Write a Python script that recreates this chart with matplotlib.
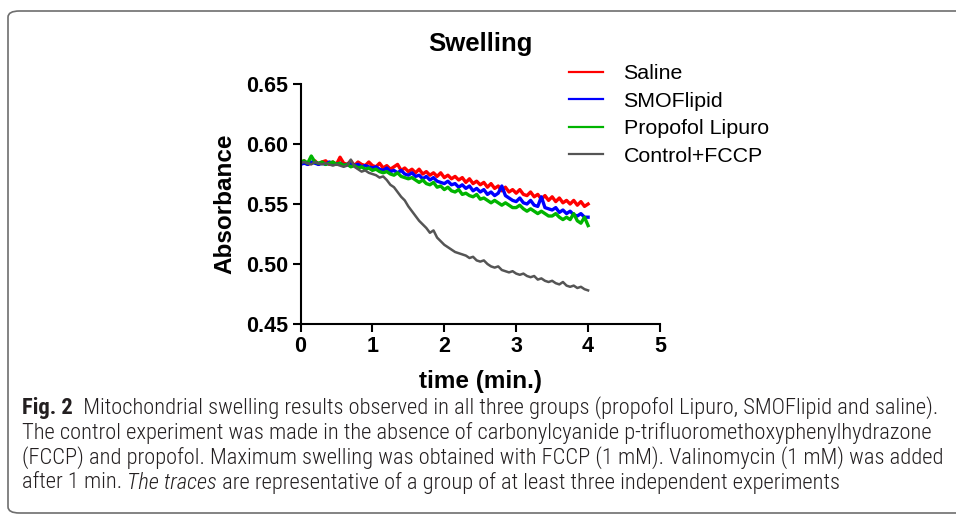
import numpy as np
import matplotlib
matplotlib.use("Agg")
import matplotlib.pyplot as plt
from matplotlib import font_manager as fm
from matplotlib.patches import FancyBboxPatch

# ---------------- data ----------------
time_min = np.round(np.arange(0, 4.001, 0.05), 2)

saline = [
    0.584, 0.586, 0.583, 0.584, 0.586, 0.583, 0.585, 0.586, 0.583, 0.585,
    0.583, 0.589, 0.584, 0.583, 0.586, 0.582, 0.585, 0.583, 0.582, 0.585,
    0.582, 0.581, 0.584, 0.580, 0.582, 0.579, 0.581, 0.583, 0.578, 0.580,
    0.577, 0.579, 0.576, 0.579, 0.575, 0.577, 0.574, 0.576, 0.573, 0.576,
    0.572, 0.574, 0.571, 0.573, 0.570, 0.572, 0.568, 0.571, 0.567, 0.569,
    0.566, 0.568, 0.564, 0.567, 0.563, 0.565, 0.561, 0.564, 0.560, 0.562,
    0.559, 0.562, 0.558, 0.557, 0.560, 0.556, 0.558, 0.554, 0.557, 0.553,
    0.556, 0.552, 0.555, 0.551, 0.553, 0.550, 0.553, 0.549, 0.552, 0.548,
    0.550,
]
smoflipid = [
    0.583, 0.584, 0.583, 0.585, 0.584, 0.583, 0.584, 0.583, 0.585, 0.584,
    0.583, 0.584, 0.582, 0.583, 0.584, 0.582, 0.583, 0.581, 0.582, 0.581,
    0.580, 0.581, 0.579, 0.578, 0.580, 0.577, 0.578, 0.576, 0.578, 0.575,
    0.574, 0.576, 0.573, 0.574, 0.571, 0.573, 0.570, 0.572, 0.569, 0.568,
    0.567, 0.569, 0.566, 0.567, 0.564, 0.566, 0.563, 0.565, 0.561, 0.563,
    0.560, 0.562, 0.558, 0.560, 0.557, 0.559, 0.565, 0.557, 0.555, 0.553,
    0.552, 0.555, 0.551, 0.550, 0.553, 0.549, 0.548, 0.556, 0.547, 0.546,
    0.545, 0.547, 0.543, 0.545, 0.542, 0.544, 0.541, 0.540, 0.542, 0.539,
    0.539,
]
propofol_lipuro = [
    0.585, 0.586, 0.584, 0.590, 0.585, 0.584, 0.585, 0.583, 0.584, 0.585,
    0.583, 0.584, 0.582, 0.583, 0.581, 0.582, 0.580, 0.581, 0.579, 0.580,
    0.578, 0.579, 0.577, 0.576, 0.577, 0.575, 0.574, 0.576, 0.573, 0.572,
    0.571, 0.572, 0.570, 0.568, 0.570, 0.567, 0.566, 0.568, 0.564, 0.565,
    0.562, 0.564, 0.561, 0.560, 0.562, 0.558, 0.559, 0.557, 0.556, 0.558,
    0.554, 0.555, 0.553, 0.551, 0.553, 0.551, 0.549, 0.551, 0.549, 0.547,
    0.547, 0.549, 0.546, 0.544, 0.546, 0.544, 0.542, 0.544, 0.542, 0.540,
    0.540, 0.542, 0.539, 0.537, 0.539, 0.537, 0.542, 0.536, 0.534, 0.539,
    0.532,
]
control_fccp = [
    0.584, 0.585, 0.584, 0.583, 0.585, 0.584, 0.583, 0.584, 0.583, 0.582,
    0.583, 0.582, 0.581, 0.582, 0.587, 0.581, 0.579, 0.577, 0.578, 0.576,
    0.575, 0.574, 0.572, 0.573, 0.570, 0.566, 0.564, 0.560, 0.556, 0.553,
    0.548, 0.544, 0.540, 0.536, 0.533, 0.530, 0.526, 0.528, 0.522, 0.519,
    0.516, 0.514, 0.512, 0.510, 0.509, 0.508, 0.507, 0.505, 0.506, 0.503,
    0.502, 0.503, 0.500, 0.498, 0.497, 0.498, 0.495, 0.494, 0.493, 0.494,
    0.492, 0.491, 0.492, 0.490, 0.489, 0.490, 0.487, 0.488, 0.486, 0.485,
    0.486, 0.484, 0.483, 0.485, 0.482, 0.481, 0.482, 0.480, 0.481, 0.479,
    0.478,
]

series_labels = ["Saline", "SMOFlipid", "Propofol Lipuro", "Control+FCCP"]
series_colors = ["#ff0000", "#0000ff", "#00b400", "#555555"]

x_ticks = [0, 1, 2, 3, 4, 5]
y_ticks = [0.45, 0.50, 0.55, 0.60, 0.65]

title_text = "Swelling"
xlabel_text = "time (min.)"
ylabel_text = "Absorbance"

caption_lines = [
    [("Fig. 2", "bold"), ("  Mitochondrial swelling results observed in all three groups (propofol Lipuro, SMOFlipid and saline).", "normal")],
    [("The control experiment was made in the absence of carbonylcyanide p-trifluoromethoxyphenylhydrazone", "normal")],
    [("(FCCP) and propofol. Maximum swelling was obtained with FCCP (1 mM). Valinomycin (1 mM) was added", "normal")],
    [("after 1 min. ", "normal"), ("The traces", "italic"), (" are representative of a group of at least three independent experiments", "normal")],
]

# ---------------- fonts ----------------
plt.rcParams['font.family'] = ['Liberation Sans', 'DejaVu Sans']

def pick_caption_font():
    for fam in ['Roboto Condensed', 'Liberation Sans Narrow', 'Open Sans Condensed']:
        try:
            fm.findfont(fm.FontProperties(family=fam), fallback_to_default=False)
            return fam
        except Exception:
            pass
    return 'Liberation Sans'

cap_family = pick_caption_font()

# ---------------- figure ----------------
W, H = 956, 515
fig = plt.figure(figsize=(W / 100, H / 100), dpi=100)

box = FancyBboxPatch((8 / W, 1 - 513 / H), (1100 - 8) / W, (513 - 11) / H,
                     boxstyle="round,pad=0,rounding_size=0.012",
                     transform=fig.transFigure, fill=False,
                     edgecolor="#6e6e6e", linewidth=1.2, clip_on=False)
fig.patches.append(box)

ax_left, ax_right = 300.5, 660
ax_top, ax_bottom = 84, 324
ax = fig.add_axes([ax_left / W, 1 - ax_bottom / H, (ax_right - ax_left) / W, (ax_bottom - ax_top) / H])

for vals, lab, col in zip([saline, smoflipid, propofol_lipuro, control_fccp], series_labels, series_colors):
    lw = 1.8 if lab == "Control+FCCP" else 2.4
    ax.plot(time_min, vals, color=col, lw=lw, label=lab)

ax.set_xlim(0, 5)
ax.set_ylim(0.45, 0.65)
ax.set_xticks(x_ticks)
ax.set_xticklabels([str(v) for v in x_ticks])
ax.set_yticks(y_ticks)
ax.set_yticklabels([f"{v:.2f}" for v in y_ticks])
for s in ['top', 'right']:
    ax.spines[s].set_visible(False)
for s in ['left', 'bottom']:
    ax.spines[s].set_linewidth(1.5)
ax.tick_params(axis='both', direction='out', length=6, width=1.5, labelsize=15.5, pad=3)
for lbl in ax.get_xticklabels() + ax.get_yticklabels():
    lbl.set_fontweight('bold')

ax.set_xlabel(xlabel_text, fontsize=17.5, fontweight='bold', labelpad=9)
ax.set_ylabel(ylabel_text, fontsize=17.5, fontweight='bold', labelpad=7)
ax.set_title(title_text, fontsize=18.5, fontweight='bold', pad=24)

leg = ax.legend(loc='upper left', bbox_to_anchor=(569 / W, 1 - 64 / H), bbox_transform=fig.transFigure,
                frameon=False, fontsize=15.4, handlelength=1.6, handletextpad=0.95,
                labelspacing=0.4, borderaxespad=0, borderpad=0)
for line in leg.get_lines():
    line.set_linewidth(1.6)

# ---------------- caption ----------------
renderer = fig.canvas.get_renderer()
x0_px = 22
target_w = 938 - 22

def seg_kw(style, fs):
    kw = dict(fontsize=fs, va='center', ha='left', color='#231f20', family=cap_family)
    if style == 'bold':
        kw['fontweight'] = 'bold'
    elif style == 'italic':
        kw['fontstyle'] = 'italic'
        kw['fontweight'] = 'light'
    else:
        kw['fontweight'] = 'light'
    return kw

pw = 0
for txt, style in caption_lines[0]:
    p = fig.text(0, 0, txt, **seg_kw(style, 10))
    pw += p.get_window_extent(renderer).width
    p.remove()
cap_fs = 10 * target_w / pw

line_y = [408, 433, 458, 483]
for segs, yc in zip(caption_lines, line_y):
    xcur = x0_px
    for txt, style in segs:
        t = fig.text(xcur / W, 1 - yc / H, txt, **seg_kw(style, cap_fs))
        xcur += t.get_window_extent(renderer).width

fig.savefig("out.png", dpi=100)
